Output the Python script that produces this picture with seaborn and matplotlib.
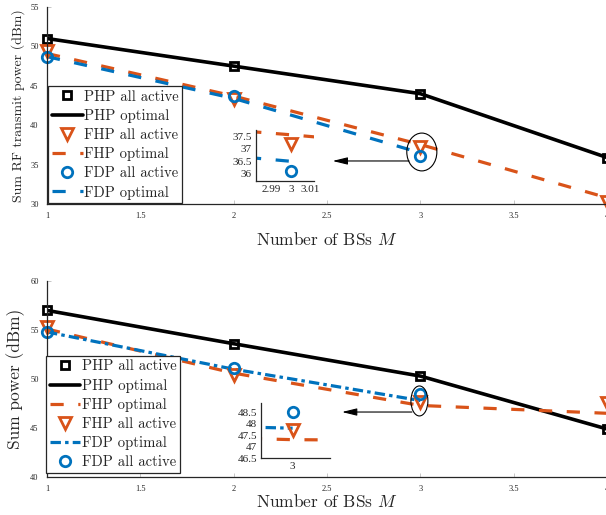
import numpy as np
import pandas as pd
import matplotlib
matplotlib.use("Agg")
import matplotlib.pyplot as plt
from matplotlib.patches import Ellipse
import seaborn as sns

# Number of base stations
bs_count = [1, 2, 3, 4]
bs_count_fdp = [1, 2, 3]

# Sum RF transmit power (dBm)
rf_php_active = [51.0, 47.5, 44.0, 35.9]
rf_php_opt = [51.0, 47.5, 44.0, 35.9]
rf_fhp_active = [49.4, 43.3, 37.2, 30.3]
rf_fhp_opt = [49.1, 43.7, 37.55, 30.8]
rf_fdp_active = [48.6, 43.7, 36.1]
rf_fdp_opt = [48.7, 43.4, 36.5]

# Sum power (dBm)
sp_php_active = [57.0, 53.6, 50.3, 44.9]
sp_php_opt = [57.0, 53.6, 50.3, 44.9]
sp_fhp_opt = [55.1, 50.6, 47.3, 46.5]
sp_fhp_active = [55.3, 50.4, 47.7, 47.5]
sp_fdp_opt = [54.8, 51.0, 47.8]
sp_fdp_active = [54.8, 51.1, 48.5]

x_ticks = [1, 1.5, 2, 2.5, 3, 3.5, 4]
rf_yticks = [30, 35, 40, 45, 50, 55]
sp_yticks = [40, 45, 50, 55, 60]

BLACK = "#000000"
ORANGE = "#D95319"
BLUE = "#0072BD"
AXC = "#262626"

sns.set_style("white")
plt.rcParams["lines.scale_dashes"] = False
plt.rcParams["mathtext.fontset"] = "cm"
plt.rcParams["font.family"] = ["Liberation Serif", "DejaVu Serif"]

LBL_FONT = "cmr10"
LW = 2.3
DASH = (9.5, 10.5)
DASHDOT = (7.5, 3.0, 2.5, 3.0)

fig = plt.figure(figsize=(6.06, 5.15), dpi=100)


def line(ax, x, y, color, label, dashes=None, lw=LW):
    df = pd.DataFrame({"x": x, "y": y})
    kw = {}
    if dashes is not None:
        kw["dashes"] = dashes
    sns.lineplot(data=df, x="x", y="y", ax=ax, color=color, lw=lw,
                 label=label, legend=False, estimator=None, sort=False, **kw)
    return ax.lines[-1]


def marks(ax, x, y, color, marker, ms, label):
    df = pd.DataFrame({"x": x, "y": y})
    sns.lineplot(data=df, x="x", y="y", ax=ax, color=color, linestyle="none",
                 marker=marker, markersize=ms, markerfacecolor="none",
                 markeredgecolor=color, markeredgewidth=2.0,
                 label=label, legend=False, estimator=None, sort=False)
    h = ax.lines[-1]
    h.set_clip_on(False)
    return h


def style_main(ax, ylim, yticks, ylabel, ylabel_size, xlabelpad):
    ax.set_xlim(1, 4)
    ax.set_ylim(*ylim)
    ax.set_xticks(x_ticks)
    ax.set_xticklabels([f"{t:g}" for t in x_ticks])
    ax.set_yticks(yticks)
    ax.set_yticklabels([str(t) for t in yticks])
    for s in ["top", "right"]:
        ax.spines[s].set_visible(False)
    for s in ["left", "bottom"]:
        ax.spines[s].set_color(AXC)
        ax.spines[s].set_linewidth(0.9)
    ax.tick_params(axis="both", direction="in", length=3, width=0.5,
                   color="#b0b0b0", labelsize=6, labelcolor=AXC, pad=6,
                   left=True, bottom=True)
    ax.set_xlabel("Number of BSs $M$", fontsize=12.5, family=LBL_FONT,
                  color=AXC, labelpad=xlabelpad)
    ax.set_ylabel(ylabel, fontsize=ylabel_size, family=LBL_FONT,
                  color=AXC, labelpad=4)
    ax.grid(False)


def style_inset(ax, xlim, ylim, xticks, xticklabels, yticks, yticklabels):
    ax.set_xlim(*xlim)
    ax.set_ylim(*ylim)
    ax.set_xticks(xticks)
    ax.set_xticklabels(xticklabels)
    ax.set_yticks(yticks)
    ax.set_yticklabels(yticklabels)
    ax.patch.set_alpha(0)
    for s in ["top", "right"]:
        ax.spines[s].set_visible(False)
    for s in ["left", "bottom"]:
        ax.spines[s].set_color(AXC)
        ax.spines[s].set_linewidth(0.9)
    ax.tick_params(axis="both", direction="in", length=0, labelsize=8,
                   labelcolor=AXC, pad=3)
    ax.set_xlabel("")
    ax.set_ylabel("")
    ax.grid(False)


def legend(ax, handles, bbox):
    leg = ax.legend(handles=handles, labels=[h.get_label() for h in handles],
                    loc="lower left", bbox_to_anchor=bbox,
                    prop={"family": LBL_FONT, "size": 10.6},
                    frameon=True, fancybox=False, framealpha=1,
                    edgecolor=AXC, borderpad=0.25, labelspacing=0.36,
                    handlelength=2.1, handletextpad=0.1, borderaxespad=0)
    leg.get_frame().set_linewidth(0.9)
    leg.set_zorder(10)


# ---------------- upper panel: RF transmit power ----------------
ax1 = fig.add_axes([47 / 606, 1 - 204 / 515, 560 / 606, 197 / 515])
h_php_o = line(ax1, bs_count, rf_php_opt, BLACK, "PHP optimal", lw=2.6)
h_fhp_o = line(ax1, bs_count, rf_fhp_opt, ORANGE, "FHP optimal", dashes=DASH)
h_fdp_o = line(ax1, bs_count_fdp, rf_fdp_opt, BLUE, "FDP optimal", dashes=DASH)
h_php_a = marks(ax1, bs_count, rf_php_active, BLACK, "s", 6, "PHP all active")
h_fhp_a = marks(ax1, bs_count, rf_fhp_active, ORANGE, "v", 8, "FHP all active")
h_fdp_a = marks(ax1, bs_count_fdp, rf_fdp_active, BLUE, "o", 7.5, "FDP all active")
style_main(ax1, (30, 55), rf_yticks, "Sum RF transmit power (dBm)", 10, 8)
legend(ax1, [h_php_a, h_php_o, h_fhp_a, h_fhp_o, h_fdp_a, h_fdp_o],
       (0.002, 0.004))

ax1.add_patch(Ellipse((3.008, 36.6), 0.161, 4.8, fill=False, ec=BLACK,
                      lw=0.8, zorder=5))
ax1.annotate("", xy=(2.53, 35.46), xytext=(2.94, 35.46),
             arrowprops=dict(arrowstyle="-|>,head_length=0.9,head_width=0.22",
                             color=BLACK, lw=0.8, shrinkA=0, shrinkB=0))

in1 = fig.add_axes([256 / 606, 1 - 181 / 515, 58 / 606, 51 / 515])
line(in1, bs_count, rf_fhp_opt, ORANGE, "_f", dashes=DASH)
line(in1, bs_count_fdp, rf_fdp_opt, BLUE, "_d", dashes=DASH)
marks(in1, bs_count, rf_fhp_active, ORANGE, "v", 8, "_fa")
marks(in1, bs_count_fdp, rf_fdp_active, BLUE, "o", 7.5, "_da")
for h in in1.lines:
    h.set_clip_on(True)
style_inset(in1, (2.982, 3.012), (35.72, 37.74), [2.99, 3.0, 3.01],
            ["2.99", "3", "3.01"], [36, 36.5, 37, 37.5],
            ["36", "36.5", "37", "37.5"])

# ---------------- lower panel: total power ----------------
ax2 = fig.add_axes([47 / 606, 1 - 477 / 515, 560 / 606, 196 / 515])
g_php_o = line(ax2, bs_count, sp_php_opt, BLACK, "PHP optimal", lw=2.6)
g_fhp_o = line(ax2, bs_count, sp_fhp_opt, ORANGE, "FHP optimal", dashes=DASH)
g_fdp_o = line(ax2, bs_count_fdp, sp_fdp_opt, BLUE, "FDP optimal",
               dashes=DASHDOT)
g_php_a = marks(ax2, bs_count, sp_php_active, BLACK, "s", 6, "PHP all active")
g_fhp_a = marks(ax2, bs_count, sp_fhp_active, ORANGE, "v", 8, "FHP all active")
g_fdp_a = marks(ax2, bs_count_fdp, sp_fdp_active, BLUE, "o", 7.5,
                "FDP all active")
style_main(ax2, (40, 60), sp_yticks, "Sum power (dBm)", 12.5, 0)
legend(ax2, [g_php_a, g_php_o, g_fhp_o, g_fhp_a, g_fdp_o, g_fdp_a],
       (-0.002, 0.02))

ax2.add_patch(Ellipse((2.995, 47.76), 0.091, 3.06, fill=False, ec=BLACK,
                      lw=0.8, zorder=5))
ax2.annotate("", xy=(2.58, 46.63), xytext=(2.955, 46.63),
             arrowprops=dict(arrowstyle="-|>,head_length=0.9,head_width=0.22",
                             color=BLACK, lw=0.8, shrinkA=0, shrinkB=0))

in2 = fig.add_axes([261 / 606, 1 - 458 / 515, 69 / 606, 55 / 515])
line(in2, bs_count, sp_fhp_opt, ORANGE, "_f", dashes=DASH)
line(in2, bs_count_fdp, sp_fdp_opt, BLUE, "_d", dashes=DASHDOT)
marks(in2, bs_count, sp_fhp_active, ORANGE, "v", 8, "_fa")
marks(in2, bs_count_fdp, sp_fdp_active, BLUE, "o", 7.5, "_da")
for h in in2.lines:
    h.set_clip_on(True)
style_inset(in2, (2.989, 3.013), (46.5, 48.9), [3.0], ["3"],
            [46.5, 47, 47.5, 48, 48.5],
            ["46.5", "47", "47.5", "48", "48.5"])

fig.savefig("out.png", dpi=100)
